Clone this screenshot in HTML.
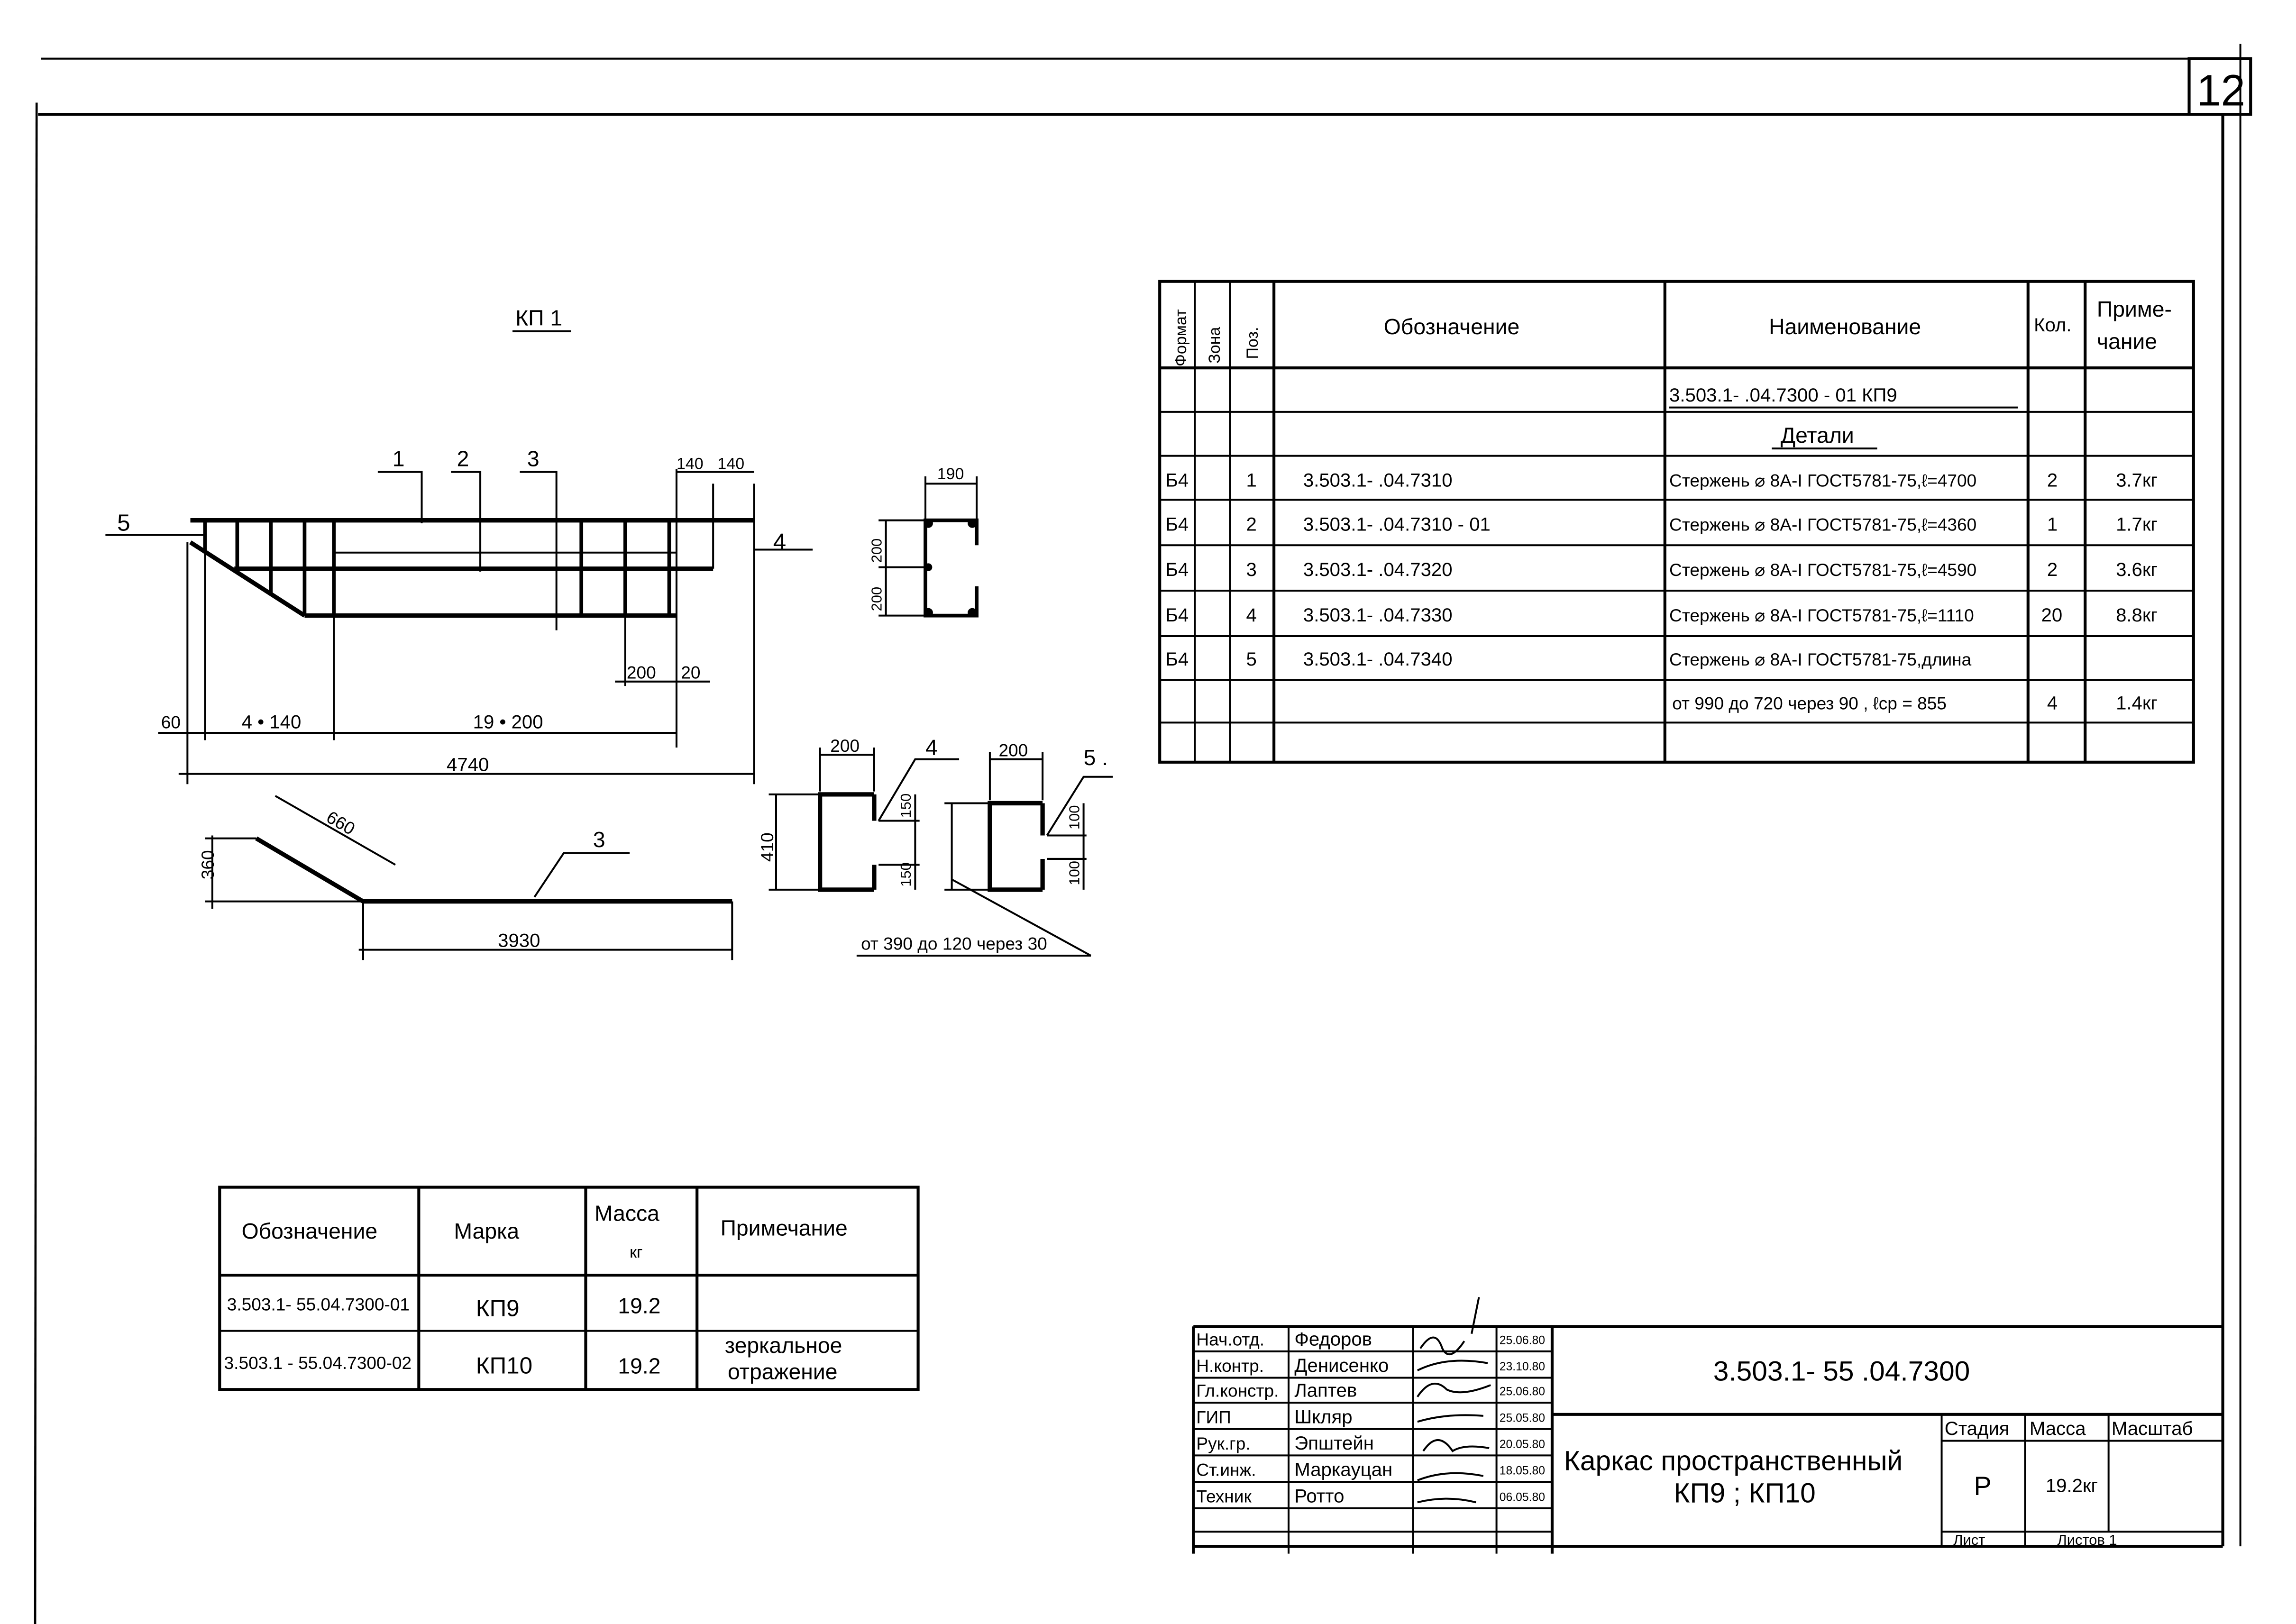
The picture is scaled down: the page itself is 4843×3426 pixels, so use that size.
<!DOCTYPE html>
<html><head><meta charset="utf-8"><style>html,body{margin:0;padding:0;background:#fff}svg{display:block}text{font-family:"Liberation Sans","DejaVu Sans",sans-serif;fill:#000}</style></head><body>
<svg width="4843" height="3426" viewBox="0 0 1568 1108" preserveAspectRatio="none" xmlns="http://www.w3.org/2000/svg">
<g stroke="#000" fill="none" stroke-width="1.3">
<line x1="28" y1="40" x2="1530" y2="40"/>
<line x1="26" y1="78" x2="1520" y2="78" stroke-width="2"/>
<line x1="25" y1="70" x2="24" y2="1108" stroke-width="1.5"/>
<line x1="1518" y1="78" x2="1518" y2="1055" stroke-width="2"/>
<line x1="1530" y1="30" x2="1530" y2="1055"/>
<rect x="1495" y="40" width="42" height="38" stroke-width="2"/>
<rect x="792" y="192" width="706" height="328" stroke-width="2"/>
<line x1="792" y1="251" x2="1498" y2="251" stroke-width="2"/>
<line x1="792" y1="281" x2="1498" y2="281"/><line x1="792" y1="311" x2="1498" y2="311"/>
<line x1="792" y1="341" x2="1498" y2="341"/><line x1="792" y1="372" x2="1498" y2="372"/>
<line x1="792" y1="403" x2="1498" y2="403"/><line x1="792" y1="434" x2="1498" y2="434"/>
<line x1="792" y1="464" x2="1498" y2="464"/><line x1="792" y1="493" x2="1498" y2="493"/>
<line x1="816" y1="192" x2="816" y2="520"/><line x1="840" y1="192" x2="840" y2="520"/>
<line x1="870" y1="192" x2="870" y2="520" stroke-width="2"/><line x1="1137" y1="192" x2="1137" y2="520" stroke-width="2"/>
<line x1="1385" y1="192" x2="1385" y2="520" stroke-width="2"/><line x1="1424" y1="192" x2="1424" y2="520" stroke-width="2"/>
<line x1="1140" y1="278" x2="1378" y2="278"/><line x1="1210" y1="306" x2="1282" y2="306"/>
<rect x="150" y="810" width="477" height="138" stroke-width="2"/>
<line x1="150" y1="870" x2="627" y2="870" stroke-width="2"/><line x1="150" y1="908" x2="627" y2="908"/>
<line x1="286" y1="810" x2="286" y2="948" stroke-width="2"/><line x1="400" y1="810" x2="400" y2="948" stroke-width="2"/><line x1="476" y1="810" x2="476" y2="948" stroke-width="2"/>
<line x1="815" y1="905" x2="1518" y2="905" stroke-width="2"/>
<line x1="815" y1="905" x2="815" y2="1060" stroke-width="2"/>
<line x1="815" y1="1055" x2="1518" y2="1055" stroke-width="2"/>
<line x1="880" y1="905" x2="880" y2="1060"/><line x1="965" y1="905" x2="965" y2="1060"/><line x1="1022" y1="905" x2="1022" y2="1060"/><line x1="1060" y1="905" x2="1060" y2="1060" stroke-width="2"/>
<line x1="815" y1="922" x2="1060" y2="922"/><line x1="815" y1="940" x2="1060" y2="940"/><line x1="815" y1="957" x2="1060" y2="957"/><line x1="815" y1="975" x2="1060" y2="975"/><line x1="815" y1="993" x2="1060" y2="993"/><line x1="815" y1="1011" x2="1060" y2="1011"/><line x1="815" y1="1029" x2="1060" y2="1029"/><line x1="815" y1="1045" x2="1060" y2="1045"/>
<line x1="1060" y1="965" x2="1518" y2="965" stroke-width="2"/><line x1="1326" y1="983" x2="1518" y2="983"/>
<line x1="1326" y1="1045" x2="1518" y2="1045"/>
<line x1="1326" y1="965" x2="1326" y2="1055"/><line x1="1383" y1="965" x2="1383" y2="1055"/><line x1="1440" y1="965" x2="1440" y2="1045"/>
<path d="M970 920 q10 -15 15 0 q5 10 15 -5 M1010 885 l-5 25 M968 935 q20 -10 48 -5 M968 953 q10 -15 20 -5 q10 5 30 -3 M968 970 q20 -6 45 -4 M972 990 q10 -15 20 0 q8 -5 25 -2 M968 1010 q20 -8 45 -3 M968 1025 q20 -5 40 0"/>
<line x1="350" y1="226" x2="390" y2="226"/>
<line x1="130" y1="355" x2="515" y2="355" stroke-width="3"/>
<line x1="72" y1="365" x2="140" y2="365"/>
<line x1="208" y1="420" x2="462" y2="420" stroke-width="3"/>
<line x1="130" y1="370" x2="208" y2="420" stroke-width="3"/>
<line x1="160" y1="388" x2="487" y2="388" stroke-width="3"/>
<line x1="228" y1="377" x2="462" y2="377"/>
<line x1="140" y1="355" x2="140" y2="377" stroke-width="2.5"/>
<line x1="162" y1="355" x2="162" y2="390" stroke-width="2.5"/>
<line x1="185" y1="355" x2="185" y2="405" stroke-width="2.5"/>
<line x1="208" y1="355" x2="208" y2="420" stroke-width="2.5"/>
<line x1="228" y1="355" x2="228" y2="420" stroke-width="2.5"/>
<line x1="380" y1="355" x2="380" y2="430"/>
<line x1="397" y1="355" x2="397" y2="420" stroke-width="2.5"/>
<line x1="427" y1="355" x2="427" y2="420" stroke-width="2.5"/>
<line x1="457" y1="355" x2="457" y2="420" stroke-width="2.5"/>
<line x1="487" y1="330" x2="487" y2="388"/><line x1="515" y1="330" x2="515" y2="535"/><line x1="462" y1="320" x2="462" y2="510"/>
<polyline points="258,322 288,322 288,357"/><polyline points="308,322 328,322 328,390"/><polyline points="355,322 380,322 380,355"/>
<line x1="462" y1="322" x2="515" y2="322"/>
<line x1="515" y1="375" x2="555" y2="375"/>
<line x1="427" y1="420" x2="427" y2="468"/><line x1="420" y1="465" x2="485" y2="465"/>
<line x1="108" y1="500" x2="462" y2="500"/><line x1="128" y1="370" x2="128" y2="535"/><line x1="140" y1="377" x2="140" y2="505"/><line x1="228" y1="420" x2="228" y2="505"/>
<line x1="122" y1="528" x2="515" y2="528"/>
<polyline points="175,572 248,615 500,615" stroke-width="3"/>
<line x1="140" y1="615" x2="248" y2="615"/><line x1="145" y1="570" x2="145" y2="620"/><line x1="140" y1="572" x2="175" y2="572"/>
<line x1="188" y1="543" x2="270" y2="590"/>
<line x1="248" y1="615" x2="248" y2="655"/><line x1="500" y1="615" x2="500" y2="655"/><line x1="245" y1="648" x2="500" y2="648"/>
<polyline points="365,612 385,582 430,582"/>
<rect x="632" y="355" width="35" height="65" stroke-width="2.5"/>
<line x1="667" y1="372" x2="667" y2="400" stroke="#fff" stroke-width="4"/>
<circle cx="634" cy="357" r="2.5" fill="#000"/><circle cx="664" cy="357" r="2.5" fill="#000"/><circle cx="634" cy="418" r="2.5" fill="#000"/><circle cx="664" cy="418" r="2.5" fill="#000"/><circle cx="634" cy="387" r="2" fill="#000"/>
<line x1="632" y1="330" x2="667" y2="330"/><line x1="632" y1="325" x2="632" y2="355"/><line x1="667" y1="325" x2="667" y2="355"/>
<line x1="605" y1="355" x2="605" y2="420"/><line x1="600" y1="355" x2="632" y2="355"/><line x1="600" y1="387" x2="632" y2="387"/><line x1="600" y1="420" x2="632" y2="420"/>
<polyline points="597,542 560,542 560,607 597,607" stroke-width="3"/>
<line x1="597" y1="542" x2="597" y2="560" stroke-width="3"/><line x1="597" y1="590" x2="597" y2="607" stroke-width="3"/>
<line x1="560" y1="515" x2="597" y2="515"/><line x1="560" y1="510" x2="560" y2="540"/><line x1="597" y1="510" x2="597" y2="540"/>
<line x1="530" y1="542" x2="530" y2="607"/><line x1="525" y1="542" x2="560" y2="542"/><line x1="525" y1="607" x2="560" y2="607"/>
<line x1="625" y1="542" x2="625" y2="607"/><line x1="600" y1="560" x2="628" y2="560"/><line x1="600" y1="590" x2="628" y2="590"/>
<polyline points="600,560 625,518 655,518"/>
<polyline points="712,548 676,548 676,607 712,607" stroke-width="3"/>
<line x1="712" y1="548" x2="712" y2="570" stroke-width="3"/><line x1="712" y1="586" x2="712" y2="607" stroke-width="3"/>
<line x1="676" y1="518" x2="712" y2="518"/><line x1="676" y1="513" x2="676" y2="546"/><line x1="712" y1="513" x2="712" y2="546"/>
<line x1="650" y1="548" x2="650" y2="607"/><line x1="645" y1="548" x2="676" y2="548"/><line x1="645" y1="607" x2="676" y2="607"/>
<line x1="740" y1="548" x2="740" y2="607"/><line x1="715" y1="570" x2="742" y2="570"/><line x1="715" y1="586" x2="742" y2="586"/>
<polyline points="715,570 740,530 760,530"/>
<line x1="650" y1="600" x2="745" y2="652"/><line x1="585" y1="652" x2="745" y2="652"/>
</g>
<g font-size="15">
<text x="1500" y="72" font-size="30">12</text>
<text x="352" y="222" font-size="15">КП 1</text>
<text x="80" y="362" font-size="16">5</text><text x="528" y="375" font-size="16">4</text>
<text x="268" y="318">1</text><text x="312" y="318">2</text><text x="360" y="318">3</text>
<text x="462" y="320" font-size="11">140</text><text x="490" y="320" font-size="11">140</text>
<text x="428" y="463" font-size="12">200</text><text x="465" y="463" font-size="12">20</text>
<text x="110" y="497" font-size="12">60</text><text x="165" y="497" font-size="13">4 • 140</text><text x="323" y="497" font-size="13">19 • 200</text>
<text x="305" y="526" font-size="13">4740</text>
<text x="222" y="560" font-size="12" transform="rotate(30 222 560)">660</text>
<text x="146" y="600" font-size="12" transform="rotate(-90 146 600)">360</text>
<text x="405" y="578" font-size="15">3</text>
<text x="340" y="646" font-size="13">3930</text>
<text x="640" y="327" font-size="11">190</text>
<text x="602" y="384" font-size="10" transform="rotate(-90 602 384)">200</text>
<text x="602" y="417" font-size="10" transform="rotate(-90 602 417)">200</text>
<text x="567" y="513" font-size="12">200</text><text x="632" y="515" font-size="15">4</text>
<text x="528" y="588" font-size="12" transform="rotate(-90 528 588)">410</text>
<text x="622" y="558" font-size="10" transform="rotate(-90 622 558)">150</text>
<text x="622" y="605" font-size="10" transform="rotate(-90 622 605)">150</text>
<text x="682" y="516" font-size="12">200</text><text x="740" y="522" font-size="15">5 .</text>
<text x="737" y="566" font-size="10" transform="rotate(-90 737 566)">100</text>
<text x="737" y="604" font-size="10" transform="rotate(-90 737 604)">100</text>
<text x="588" y="648" font-size="12">от 390 до 120 через 30</text>
<text x="810" y="250" font-size="11" transform="rotate(-90 810 250)">Формат</text>
<text x="833" y="248" font-size="11" transform="rotate(-90 833 248)">Зона</text>
<text x="859" y="245" font-size="11" transform="rotate(-90 859 245)">Поз.</text>
<text x="945" y="228">Обозначение</text>
<text x="1208" y="228">Наименование</text>
<text x="1389" y="226" font-size="13">Кол.</text>
<text x="1432" y="216">Приме-</text><text x="1432" y="238">чание</text>
<text x="1140" y="274" font-size="13">3.503.1-      .04.7300 - 01  КП9</text>
<text x="1216" y="302">Детали</text>
<g font-size="13">
<text x="796" y="332">Б4</text><text x="851" y="332">1</text><text x="890" y="332">3.503.1-      .04.7310</text><text x="1140" y="332" font-size="12">Стержень ⌀ 8А-I ГОСТ5781-75,ℓ=4700</text><text x="1398" y="332">2</text><text x="1445" y="332">3.7кг</text>
<text x="796" y="362">Б4</text><text x="851" y="362">2</text><text x="890" y="362">3.503.1-      .04.7310 - 01</text><text x="1140" y="362" font-size="12">Стержень ⌀ 8А-I ГОСТ5781-75,ℓ=4360</text><text x="1398" y="362">1</text><text x="1445" y="362">1.7кг</text>
<text x="796" y="393">Б4</text><text x="851" y="393">3</text><text x="890" y="393">3.503.1-      .04.7320</text><text x="1140" y="393" font-size="12">Стержень ⌀ 8А-I ГОСТ5781-75,ℓ=4590</text><text x="1398" y="393">2</text><text x="1445" y="393">3.6кг</text>
<text x="796" y="424">Б4</text><text x="851" y="424">4</text><text x="890" y="424">3.503.1-      .04.7330</text><text x="1140" y="424" font-size="12">Стержень ⌀ 8А-I ГОСТ5781-75,ℓ=1110</text><text x="1394" y="424">20</text><text x="1445" y="424">8.8кг</text>
<text x="796" y="454">Б4</text><text x="851" y="454">5</text><text x="890" y="454">3.503.1-      .04.7340</text><text x="1140" y="454" font-size="12">Стержень ⌀ 8А-I ГОСТ5781-75,длина</text>
<text x="1142" y="484" font-size="12">от 990 до 720 через 90 , ℓср = 855</text><text x="1398" y="484">4</text><text x="1445" y="484">1.4кг</text>
</g>
<text x="165" y="845">Обозначение</text><text x="310" y="845">Марка</text><text x="406" y="833">Масса</text><text x="430" y="858" font-size="11">кг</text><text x="492" y="843">Примечание</text>
<text x="155" y="894" font-size="12">3.503.1- 55.04.7300-01</text><text x="325" y="898" font-size="16">КП9</text><text x="422" y="896">19.2</text>
<text x="153" y="934" font-size="12">3.503.1 - 55.04.7300-02</text><text x="325" y="937" font-size="16">КП10</text><text x="422" y="937">19.2</text>
<text x="495" y="923">зеркальное</text><text x="497" y="941">отражение</text>
<g font-size="12">
<text x="817" y="918">Нач.отд.</text><text x="884" y="918" font-size="13">Федоров</text>
<text x="817" y="936">Н.контр.</text><text x="884" y="936" font-size="13">Денисенко</text>
<text x="817" y="953">Гл.констр.</text><text x="884" y="953" font-size="13">Лаптев</text>
<text x="817" y="971">ГИП</text><text x="884" y="971" font-size="13">Шкляр</text>
<text x="817" y="989">Рук.гр.</text><text x="884" y="989" font-size="13">Эпштейн</text>
<text x="817" y="1007">Ст.инж.</text><text x="884" y="1007" font-size="13">Маркаyцан</text>
<text x="817" y="1025">Техник</text><text x="884" y="1025" font-size="13">Ротто</text>
</g>
<g font-size="8">
<text x="1024" y="917">25.06.80</text><text x="1024" y="935">23.10.80</text><text x="1024" y="952">25.06.80</text><text x="1024" y="970">25.05.80</text><text x="1024" y="988">20.05.80</text><text x="1024" y="1006">18.05.80</text><text x="1024" y="1024">06.05.80</text>
</g>
<text x="1170" y="942" font-size="19">3.503.1- 55 .04.7300</text>
<text x="1068" y="1003" font-size="19">Каркас пространственный</text>
<text x="1143" y="1025" font-size="19">КП9 ; КП10</text>
<text x="1328" y="979" font-size="13">Стадия</text><text x="1386" y="979" font-size="13">Масса</text><text x="1442" y="979" font-size="13">Масштаб</text>
<text x="1348" y="1020" font-size="18">Р</text><text x="1397" y="1018" font-size="13">19.2кг</text>
<text x="1334" y="1054" font-size="10">Лист</text><text x="1405" y="1054" font-size="10">Листов 1</text>
</g>
</svg>
</body></html>
